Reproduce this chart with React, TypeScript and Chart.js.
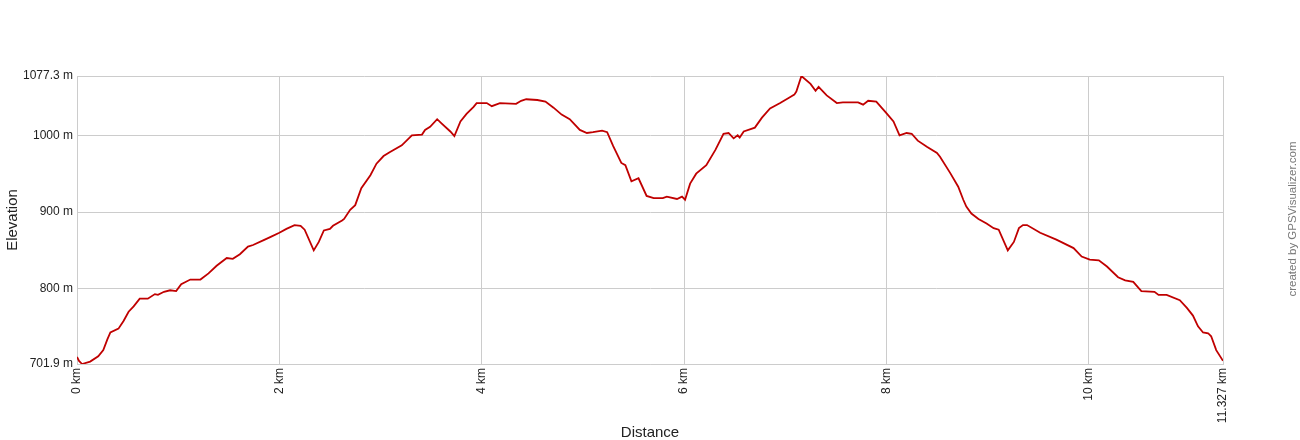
import React, { useEffect, useRef } from "react";
import { Chart, registerables } from "chart.js";

Chart.register(...registerables);

const distanceKm = [
  0.0, 0.02, 0.05, 0.13, 0.21, 0.26, 0.3, 0.33, 0.41, 0.46, 0.51, 0.56, 0.62, 0.7, 0.77, 0.8, 0.86, 0.92, 0.98,
  1.03, 1.12, 1.22, 1.3, 1.38, 1.48, 1.54, 1.61, 1.69, 1.74, 1.84, 1.92, 2.0, 2.07, 2.15, 2.21, 2.25, 2.34, 2.39,
  2.44, 2.5, 2.53, 2.62, 2.64, 2.7, 2.75, 2.81, 2.9, 2.96, 3.03, 3.09, 3.21, 3.31, 3.41, 3.44, 3.49, 3.56, 3.6,
  3.69, 3.73, 3.79, 3.85, 3.92, 3.95, 4.05, 4.1, 4.18, 4.34, 4.39, 4.44, 4.55, 4.63, 4.71, 4.79, 4.87, 4.97, 5.04,
  5.1, 5.19, 5.24, 5.3, 5.38, 5.42, 5.48, 5.55, 5.63, 5.7, 5.79, 5.83, 5.93, 5.98, 6.01, 6.06, 6.12, 6.22, 6.31,
  6.39, 6.44, 6.49, 6.53, 6.55, 6.59, 6.7, 6.77, 6.85, 6.95, 7.05, 7.09, 7.11, 7.16, 7.25, 7.3, 7.33, 7.41, 7.51,
  7.57, 7.72, 7.77, 7.82, 7.9, 8.0, 8.07, 8.13, 8.2, 8.25, 8.31, 8.4, 8.5, 8.53, 8.63, 8.71, 8.76, 8.79, 8.84,
  8.91, 8.99, 9.06, 9.11, 9.2, 9.26, 9.31, 9.35, 9.39, 9.52, 9.68, 9.85, 9.93, 10.01, 10.1, 10.18, 10.29, 10.36,
  10.44, 10.52, 10.65, 10.69, 10.77, 10.9, 10.97, 11.03, 11.08, 11.13, 11.18, 11.21, 11.26, 11.327,
];

const elevationM = [
  711, 706, 701.9, 705, 712, 720, 734, 743, 748, 758, 770, 777, 787, 787, 793, 792, 796, 798, 797,
  806, 812, 812, 820, 830, 840, 839, 845, 855, 857, 863, 868, 873, 878, 883, 882, 877, 850, 861,
  876, 878, 882, 889, 891, 903, 909, 931, 948, 963, 973, 978, 987, 1000, 1001, 1007, 1011, 1021, 1016,
  1005, 999, 1018, 1028, 1037, 1042, 1042, 1038, 1042, 1041, 1045, 1047, 1046, 1044, 1036, 1027, 1021, 1007, 1003,
  1004, 1006, 1004, 986, 964, 961, 940, 944, 921, 918, 918, 920, 917, 920, 916, 937, 950, 961, 981,
  1002, 1003, 996, 1000, 997, 1005, 1010, 1023, 1035, 1042, 1050, 1053, 1057, 1077.3, 1067, 1058, 1063, 1052, 1042,
  1043, 1043, 1040, 1045, 1044, 1029, 1018, 1000, 1003, 1002, 993, 985, 977, 972, 951, 933, 916, 907, 898,
  891, 885, 879, 877, 850, 861, 879, 883, 883, 873, 864, 853, 842, 838, 837, 829, 815, 811,
  809, 797, 796, 792, 792, 785, 775, 765, 751, 743, 742, 738, 720, 706,
];

const xTicks = [0, 2, 4, 6, 8, 10, 11.327];
const yTicks = [701.9, 800, 900, 1000, 1077.3];

const watermarkText = "created by GPSVisualizer.com";
const xTitle = "Distance";
const yTitle = "Elevation";

const FONT = "'Liberation Sans', Arial, sans-serif";

export default function App() {
  const ref = useRef<HTMLCanvasElement | null>(null);

  useEffect(() => {
    if (!ref.current) return;
    const points = distanceKm.map((d, i) => ({ x: d, y: elevationM[i] }));
    const watermark = {
      id: "watermark",
      afterDraw(chart: any) {
        const ctx = chart.ctx;
        ctx.save();
        ctx.translate(1293, 219);
        ctx.rotate(-Math.PI / 2);
        ctx.font = `11.5px ${FONT}`;
        ctx.fillStyle = "#7a7a7a";
        ctx.textAlign = "center";
        ctx.textBaseline = "middle";
        ctx.fillText(watermarkText, 0, 0);
        ctx.restore();
      },
    };
    const chart = new Chart(ref.current, {
      type: "line",
      data: {
        datasets: [
          {
            data: points,
            borderColor: "#c00000",
            borderWidth: 1.8,
            pointRadius: 0,
            tension: 0,
            fill: false,
          },
        ],
      },
      options: {
        animation: false,
        responsive: false,
        maintainAspectRatio: false,
        layout: { padding: { top: 76, right: 77, left: 0, bottom: 0 } },
        plugins: { legend: { display: false }, tooltip: { enabled: false } },
        scales: {
          x: {
            type: "linear",
            min: 0,
            max: 11.327,
            afterBuildTicks: (s: any) => {
              s.ticks = xTicks.map((v) => ({ value: v }));
            },
            afterFit: (s: any) => {
              s.height = 76;
            },
            grid: { color: "#cccccc", drawTicks: false, lineWidth: 1 },
            border: { color: "#cccccc" },
            ticks: {
              autoSkip: false,
              minRotation: 90,
              maxRotation: 90,
              padding: 4,
              color: "#222",
              font: { family: FONT, size: 12 },
              callback: (v: any) => `${v} km`,
            },
            title: {
              display: true,
              text: xTitle,
              color: "#222",
              padding: { top: 0, bottom: 0 },
              font: { family: FONT, size: 15, lineHeight: 1.0 },
            },
          },
          y: {
            type: "linear",
            min: 701.9,
            max: 1077.3,
            afterBuildTicks: (s: any) => {
              s.ticks = yTicks.map((v) => ({ value: v }));
            },
            afterFit: (s: any) => {
              s.width = 77;
            },
            grid: { color: "#cccccc", drawTicks: false, lineWidth: 1 },
            border: { color: "#cccccc" },
            ticks: {
              padding: 4,
              color: "#222",
              font: { family: FONT, size: 12 },
              callback: (v: any) => `${v} m`,
            },
            title: {
              display: true,
              text: yTitle,
              color: "#222",
              padding: { top: 5, bottom: 0 },
              font: { family: FONT, size: 15, lineHeight: 1.0 },
            },
          },
        },
      },
      plugins: [watermark],
    });
    return () => chart.destroy();
  }, []);

  return (
    <div style={{ position: "fixed", left: 0, top: 0, width: 1300, height: 440, background: "#fff" }}>
      <canvas ref={ref} width={1300} height={440} style={{ width: 1300, height: 440, display: "block" }} />
    </div>
  );
}
